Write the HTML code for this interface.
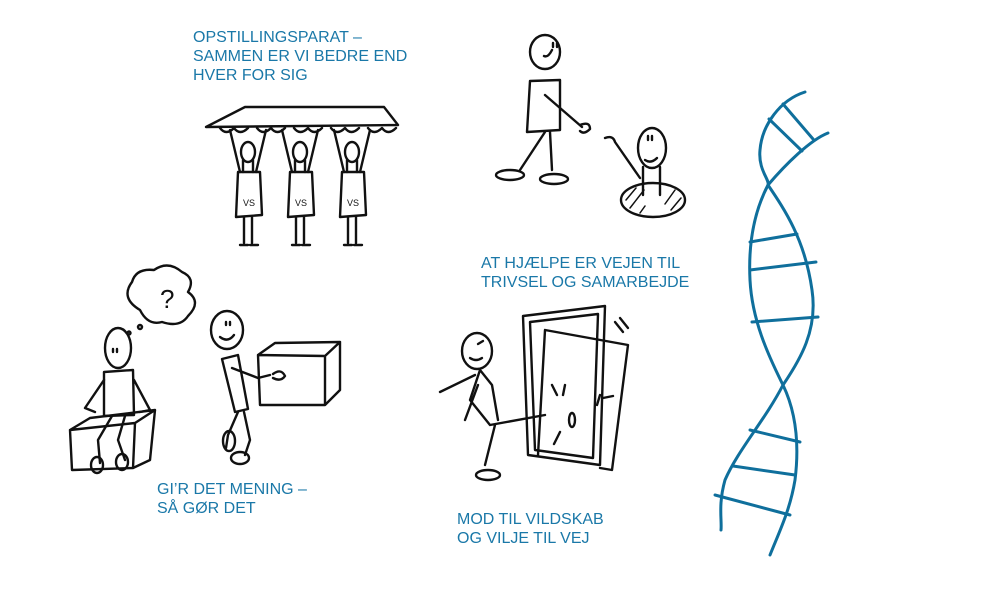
<!DOCTYPE html>
<html><head><meta charset="utf-8"><style>
html,body{margin:0;padding:0;background:#fff;width:1000px;height:600px;overflow:hidden}
.t{position:absolute;font-family:"Liberation Sans",sans-serif;font-size:16px;line-height:19px;color:#1a78a8;white-space:nowrap}
svg{position:absolute;left:0;top:0}
</style></head><body>
<svg width="1000" height="600" viewBox="0 0 1000 600" fill="none" stroke="#111" stroke-width="2.4" stroke-linecap="round" stroke-linejoin="round">
<!-- table team -->
<path d="M206,127 L245,107 L384,107 L398,125 Z"/>
<path d="M220,128 q6,8 14,0 q6,8 14,0 M257,128 q6,8 14,0 q6,8 14,0 M294,128 q6,8 14,0 q6,8 14,0 M331,128 q6,8 14,0 q6,8 14,0 M368,128 q6,8 14,0 q6,8 14,0"/>
<g id="f1">
<ellipse cx="248" cy="152" rx="7" ry="10"/>
<path d="M240,172 L230,130 M256,172 L266,130 M243,172 L243,160 M253,172 L253,160"/>
<path d="M238,172 L260,172 L262,215 L236,217 Z"/>
<path d="M244,217 L244,243 M252,217 L252,243 M240,245 L248,245 M250,245 L258,245"/>
</g>
<use href="#f1" x="52"/>
<use href="#f1" x="104"/>
<g font-family="Liberation Sans" font-size="9" fill="#111" stroke="none"><text x="243" y="206">VS</text><text x="295" y="206">VS</text><text x="347" y="206">VS</text></g>
<!-- handshake -->
<ellipse cx="545" cy="52" rx="15" ry="17"/>
<path d="M552,50 q-4,8 -8,6 M553,43 l0,4 M557,43 l0,4"/>
<path d="M530,81 L560,80 L560,130 L527,132 Z"/>
<path d="M545,132 L520,170 M550,132 L552,170"/>
<ellipse cx="510" cy="175" rx="14" ry="5"/><ellipse cx="554" cy="179" rx="14" ry="5"/>
<path d="M545,95 L582,127 M580,125 q10,-4 10,4 q-6,6 -10,2"/>
<ellipse cx="652" cy="148" rx="14" ry="20"/>
<path d="M645,160 q6,4 12,-2 M648,136 l0,4 M652,136 l0,4"/>
<path d="M605,138 q8,-3 10,4 L640,178 M643,167 L643,195 M660,167 L660,195"/>
<ellipse cx="653" cy="200" rx="32" ry="17"/>
<path d="M626,200 l10,-12 M630,208 l14,-18 M640,213 l5,-7 M675,190 l-10,14 M681,198 l-10,12" stroke-width="1.5"/>
<!-- thinking person -->
<ellipse cx="118" cy="348" rx="13" ry="20"/>
<path d="M113,349 l0,3 M117,349 l0,3"/>
<path d="M104,372 L133,370 L134,415 L104,416 Z"/>
<path d="M104,380 L85,408 L95,412 M134,380 L150,410 L140,412"/>
<path d="M70,430 L90,418 L155,410 L150,460 L133,468 L72,470 Z M70,430 L135,423 L155,410 M135,423 L133,468"/>
<path d="M112,416 L98,440 L100,463 M125,416 L118,440 L125,460"/>
<ellipse cx="97" cy="465" rx="6" ry="8"/><ellipse cx="122" cy="462" rx="6" ry="8"/>
<path d="M140,310 q-20,-12 -8,-28 q4,-14 22,-12 q14,-10 28,2 q14,6 6,20 q14,10 0,24 q-8,12 -26,6 q-14,4 -22,-12 Z"/>
<text x="160" y="308" font-family="Liberation Sans" font-size="26" fill="#111" stroke="none">?</text>
<circle cx="140" cy="327" r="2"/><circle cx="129" cy="333" r="1.5"/>
<!-- box carrier -->
<ellipse cx="227" cy="330" rx="16" ry="19"/>
<path d="M220,337 q8,6 14,-2 M226,322 l0,3 M230,322 l0,3"/>
<path d="M222,359 L238,355 L248,409 L235,412 Z"/>
<path d="M232,368 L258,378 L270,375"/>
<path d="M258,355 L275,343 L340,342 L340,390 L325,405 L260,405 Z M258,355 L325,356 L340,342 M325,356 L325,405"/>
<path d="M273,374 q8,-6 12,2 q-4,6 -12,2"/>
<path d="M238,412 L228,435 L226,448 M244,412 L250,440 L245,455"/>
<ellipse cx="229" cy="441" rx="6" ry="10"/><ellipse cx="240" cy="458" rx="9" ry="6"/>
<!-- door -->
<path d="M523,316 L605,306 L600,465 L528,455 Z M530,322 L598,314 L593,458 L535,450 Z"/>
<path d="M545,330 L628,345 L612,470 L600,468 M545,330 L538,455"/>
<path d="M620,318 l8,10 M615,322 l8,10"/>
<ellipse cx="477" cy="351" rx="15" ry="18"/>
<path d="M470,358 q6,4 12,0 M478,344 l5,-3"/>
<path d="M480,370 L470,400 L490,425 L545,415 M480,370 L492,385 L498,420 M475,375 L440,392 M478,385 L465,420 M495,425 L485,465"/>
<ellipse cx="572" cy="420" rx="3" ry="7"/>
<ellipse cx="488" cy="475" rx="12" ry="5"/>
<path d="M552,385 l5,10 M560,432 l-6,12 M565,385 l-2,10 M600,395 l-3,10 M603,398 l10,-2"/>
<!-- DNA -->
<g stroke="#0f6f9c" stroke-width="3">
<path d="M805,92 C780,100 762,125 760,150 C758,170 770,180 768,185 C755,210 748,240 750,280 C752,320 768,355 783,385 C765,420 738,450 725,480 C718,505 722,520 721,530"/>
<path d="M828,133 C810,140 785,165 768,185 C785,210 805,240 812,290 C818,330 800,360 783,385 C795,410 800,440 795,480 C790,510 780,530 770,555"/>
<path d="M783,104 L813,139 M769,119 L802,151 M750,242 L797,234 M750,270 L816,262 M752,322 L818,317 M750,430 L800,442 M733,466 L795,475 M715,495 L790,515"/>
</g>
</svg>
<div class="t" style="left:193px;top:28px">OPSTILLINGSPARAT –<br>SAMMEN ER VI BEDRE END<br>HVER FOR SIG</div>
<div class="t" style="left:481px;top:254px">AT HJÆLPE ER VEJEN TIL<br>TRIVSEL OG SAMARBEJDE</div>
<div class="t" style="left:157px;top:480px">GI’R DET MENING –<br>SÅ GØR DET</div>
<div class="t" style="left:457px;top:510px">MOD TIL VILDSKAB<br>OG VILJE TIL VEJ</div>
</body></html>
